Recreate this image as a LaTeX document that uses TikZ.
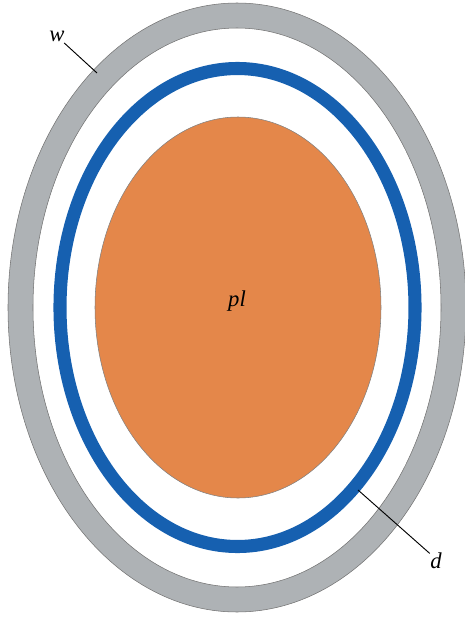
\documentclass[tikz,border=0pt]{standalone}
\usepackage{fontspec}
\setmainfont{Liberation Serif}
\usepackage{tikz}

\definecolor{wallgray}{RGB}{174,178,181}
\definecolor{diaglue}{RGB}{22,96,176}
\definecolor{plasma}{RGB}{228,135,74}

\begin{document}
\begin{tikzpicture}[
    x=0.75pt, y=-0.75pt,
    wall/.style={fill=wallgray, draw=black!55, line width=0.4pt, even odd rule},
    diag/.style={draw=diaglue, line width=9.8pt},
    core/.style={fill=plasma, draw=black!50, line width=0.4pt},
    lbl/.style={font=\fontsize{17}{20}\selectfont\itshape, inner sep=1pt},
    leader/.style={draw=black, line width=0.7pt}
]
\useasboundingbox (0,0) rectangle (464,617);

% vessel wall
\path[wall] (237,307.5) ellipse [x radius=229, y radius=304.5]
            (237,307.5) ellipse [x radius=204, y radius=279.5];
% diagnostic ring
\path[diag] (237.5,307.5) ellipse [x radius=177.5, y radius=239];
% plasma
\path[core] (238,307.5) ellipse [x radius=143, y radius=190.5];

\node[lbl] (pl) at (237,301) {pl};
\node[lbl] (w) at (57,36) {w};
\node[lbl] (d) at (436,561) {d};

\coordinate (wtip) at (97,73);
\coordinate (dtip) at (358,490);

\draw[leader] (w.south east) ++(-2,0) -- (wtip);
\draw[leader] (d.north west) ++(1,2) -- (dtip);

\end{tikzpicture}
\end{document}
